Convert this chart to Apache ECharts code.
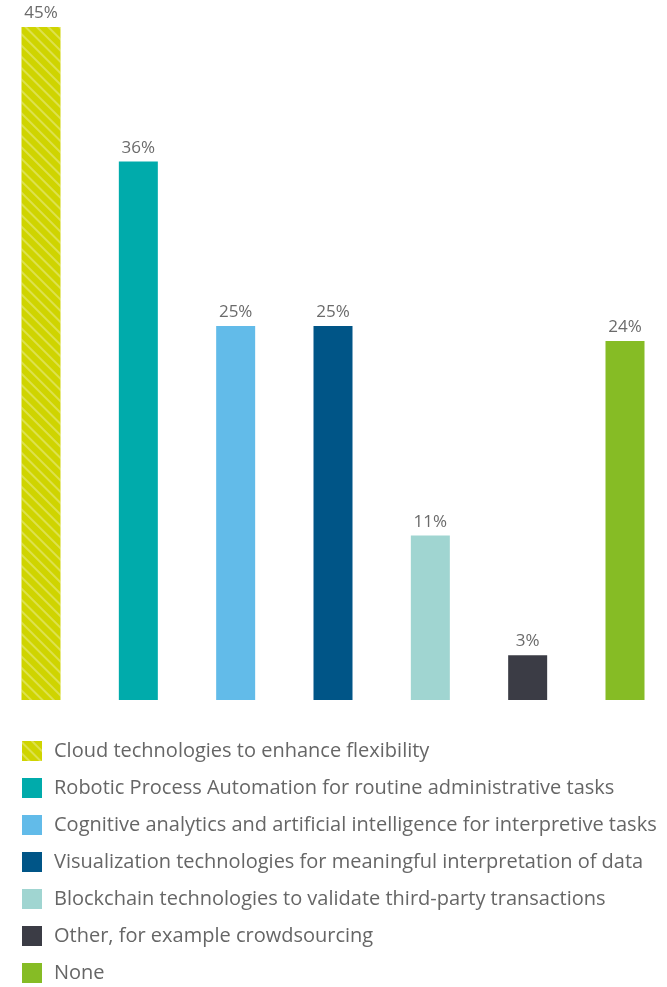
<!DOCTYPE html>
<html lang="en">
<head>
    <meta charset="UTF-8">
    <title>Technologies</title>
    <script src="https://cdn.jsdelivr.net/npm/echarts@6/dist/echarts.min.js"></script>
    <style>
        html, body { margin: 0; padding: 0; background: #fff; }
        #chart { width: 667px; height: 987px; }
    </style>
</head>
<body>
<div id="chart"></div>
<script type="text/javascript">
    var categories = [
        "Cloud technologies to enhance flexibility",
        "Robotic Process Automation for routine administrative tasks",
        "Cognitive analytics and artificial intelligence for interpretive tasks",
        "Visualization technologies for meaningful interpretation of data",
        "Blockchain technologies to validate third-party transactions",
        "Other, for example crowdsourcing",
        "None"
    ];
    var values = [45, 36, 25, 25, 11, 3, 24];
    var colors = ["#cfd400", "#00abab", "#62bbe9", "#005587", "#a0d5d1", "#3b3c45", "#86bc25"];

    var chart = echarts.init(document.getElementById('chart'));

    var series = categories.map(function (name, i) {
        var data = values.map(function (v, j) { return j === i ? v : '-'; });
        var s = {
            name: name,
            type: 'bar',
            stack: 'all',
            barWidth: 39,
            data: data,
            itemStyle: { color: colors[i] },
            label: {
                show: true,
                position: 'top',
                distance: 5,
                formatter: '{c}%',
                fontFamily: 'Open Sans',
                fontSize: 17,
                color: '#6b6b6b'
            }
        };
        if (i === 0) {
            s.itemStyle.decal = {
                symbol: 'rect',
                color: 'rgba(255,255,255,0.3)',
                dashArrayX: [1, 0],
                dashArrayY: [2, 6],
                rotation: Math.PI / 4
            };
        }
        return s;
    });

    chart.setOption({
        animation: false,
        grid: { left: 41, right: 42, top: 27, bottom: 287 },
        xAxis: {
            type: 'category',
            data: categories,
            boundaryGap: false,
            axisLine: { show: false },
            axisTick: { show: false },
            axisLabel: { show: false }
        },
        yAxis: {
            type: 'value',
            min: 0,
            max: 45,
            show: false,
            splitLine: { show: false }
        },
        legend: {
            orient: 'vertical',
            left: 22,
            top: 741,
            padding: 0,
            height: 246,
            icon: 'rect',
            itemWidth: 20,
            itemHeight: 20,
            itemGap: 17,
            selectedMode: false,
            textStyle: {
                fontFamily: 'Open Sans',
                fontSize: 20,
                lineHeight: 20,
                color: '#666666',
                padding: [0, 0, 0, 7]
            }
        },
        series: series
    });
</script>
</body>
</html>
